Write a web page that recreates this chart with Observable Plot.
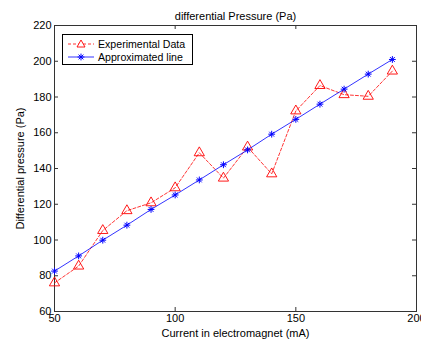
<!DOCTYPE html>
<html>
<head>
<meta charset="utf-8">
<script src="https://cdn.jsdelivr.net/npm/d3@7"></script>
<script src="https://cdn.jsdelivr.net/npm/@observablehq/plot@0.6"></script>
<style>
  html, body { margin: 0; padding: 0; background: #fff; }
  #wrap { position: relative; width: 421px; height: 341px; overflow: hidden; font-family: "Liberation Sans", Arial, sans-serif; }
  #legend { position: absolute; left: 62px; top: 34px; width: 129px; height: 29px; border: 1px solid #000; background: #fff; font-size: 10.6px; color: #000; }
  #legend .row { position: absolute; left: 0; height: 14px; display: flex; align-items: center; }
  #legend svg { display: block; }
  #legend span { margin-left: 3px; }
</style>
</head>
<body>
<div id="wrap"></div>
<script>
const current = [50, 60, 70, 80, 90, 100, 110, 120, 130, 140, 150, 160, 170, 180, 190];
const experimental = [76, 85.4, 105.3, 116.4, 120.8, 129.2, 148.8, 134.6, 152, 137, 172.2, 186.4, 181.3, 180.4, 194.5];
const approximated = [82.6, 91.1, 99.9, 108.3, 117.1, 125.2, 133.6, 142.1, 150.4, 159.2, 167.5, 176, 184.4, 192.8, 201];
const xTicks = [50, 100, 150, 200];
const yTicks = [60, 80, 100, 120, 140, 160, 180, 200, 220];
const titleText = "differential Pressure (Pa)";
const xLabel = "Current in electromagnet (mA)";
const yLabel = "Differential pressure (Pa)";
const seriesNames = ["Experimental Data", "Approximated line"];

const expData = current.map((x, i) => ({x, y: experimental[i]}));
const apxData = current.map((x, i) => ({x, y: approximated[i]}));

const W = 421, H = 341;
const mL = 54, mR = 5, mT = 25, mB = 30;
const innerH = H - mT - mB, innerW = W - mL - mR;
const frameColor = "#333";

// MATLAB-style '*' marker: plus + cross
const star = {
  draw(context, size) {
    const r = Math.sqrt(size / Math.PI);
    const d = r * Math.SQRT1_2;
    context.moveTo(0, -r); context.lineTo(0, r);
    context.moveTo(-r, 0); context.lineTo(r, 0);
    context.moveTo(-d, -d); context.lineTo(d, d);
    context.moveTo(-d, d); context.lineTo(d, -d);
  }
};

const chart = Plot.plot({
  width: W, height: H,
  marginLeft: mL, marginRight: mR, marginTop: mT, marginBottom: mB,
  style: {fontFamily: "'Liberation Sans', Arial, sans-serif", fontSize: "11px", color: "#000", background: "#fff", overflow: "visible"},
  x: {domain: [50, 200]},
  y: {domain: [60, 220]},
  marks: [
    Plot.frame({stroke: frameColor}),
    Plot.tickX(xTicks, {x: d => d, insetTop: innerH - 4, stroke: frameColor}),
    Plot.tickX(xTicks, {x: d => d, insetBottom: innerH - 4, stroke: frameColor}),
    Plot.tickY(yTicks, {y: d => d, insetRight: innerW - 4, stroke: frameColor}),
    Plot.tickY(yTicks, {y: d => d, insetLeft: innerW - 4, stroke: frameColor}),
    Plot.axisX({ticks: xTicks, tickSize: 0, tickPadding: 3, label: xLabel, labelAnchor: "center", labelArrow: "none", labelOffset: 25, tickFormat: d => String(d)}),
    Plot.axisY({ticks: yTicks, tickSize: 0, tickPadding: 3, label: yLabel, labelAnchor: "center", labelArrow: "none", labelOffset: 38, tickFormat: d => String(d)}),
    Plot.line(expData, {x: "x", y: "y", stroke: "#ff0000", strokeDasharray: "3,2", strokeWidth: 0.8}),
    Plot.dot(expData, {x: "x", y: "y", symbol: "triangle", stroke: "#ff0000", fill: "none", r: 3.8, strokeWidth: 0.9}),
    Plot.line(apxData, {x: "x", y: "y", stroke: "#0000ff", strokeWidth: 0.8}),
    Plot.dot(apxData, {x: "x", y: "y", symbol: star, stroke: "#0000ff", r: 3.4, strokeWidth: 1}),
    Plot.text([titleText], {frameAnchor: "top", dy: -13, fontSize: 11, fill: "#000"})
  ]
});

const wrap = document.getElementById("wrap");
wrap.appendChild(chart);

const legend = document.createElement("div");
legend.id = "legend";
const rows = [
  {name: seriesNames[0], color: "#ff0000", dash: "3,2", sym: "tri"},
  {name: seriesNames[1], color: "#0000ff", dash: null, sym: "ast"}
];
rows.forEach((r, i) => {
  const row = document.createElement("div");
  row.className = "row";
  row.style.top = (2 + i * 13) + "px";
  row.style.left = "4px";
  const ns = "http://www.w3.org/2000/svg";
  const s = document.createElementNS(ns, "svg");
  s.setAttribute("width", 28); s.setAttribute("height", 12);
  const ln = document.createElementNS(ns, "line");
  ln.setAttribute("x1", 1); ln.setAttribute("x2", 27); ln.setAttribute("y1", 6); ln.setAttribute("y2", 6);
  ln.setAttribute("stroke", r.color); ln.setAttribute("stroke-width", 0.8);
  if (r.dash) ln.setAttribute("stroke-dasharray", r.dash);
  s.appendChild(ln);
  const p = document.createElementNS(ns, "path");
  if (r.sym === "tri") {
    p.setAttribute("d", "M14,2L18,9L10,9Z");
    p.setAttribute("fill", "#fff"); p.setAttribute("stroke", r.color); p.setAttribute("stroke-width", 0.9);
  } else {
    p.setAttribute("d", "M14,2.6L14,9.4M10.6,6L17.4,6M11.6,3.6L16.4,8.4M11.6,8.4L16.4,3.6");
    p.setAttribute("stroke", r.color); p.setAttribute("stroke-width", 1);
  }
  s.appendChild(p);
  row.appendChild(s);
  const t = document.createElement("span");
  t.textContent = r.name;
  row.appendChild(t);
  legend.appendChild(row);
});
wrap.appendChild(legend);
</script>
</body>
</html>
